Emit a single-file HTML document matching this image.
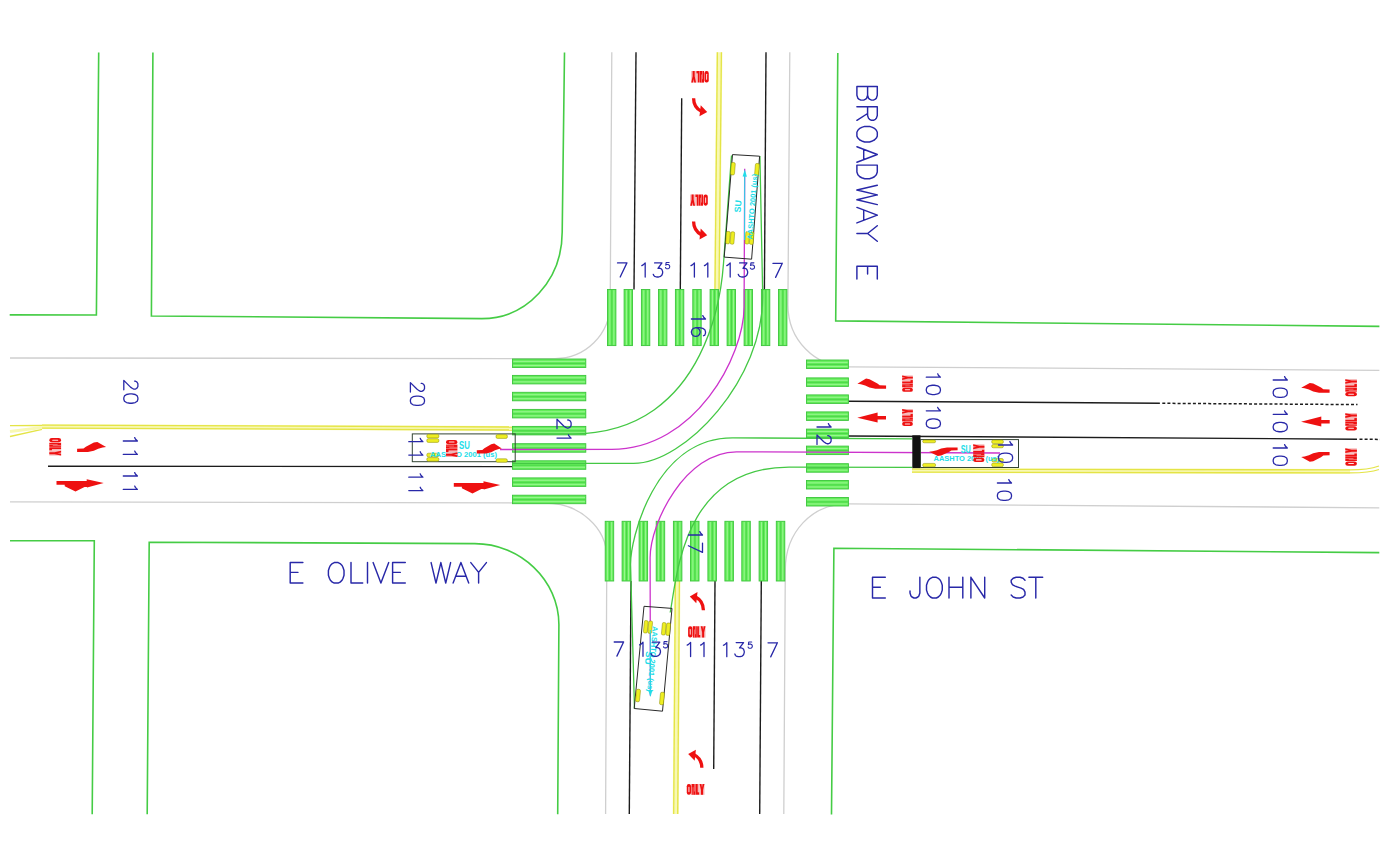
<!DOCTYPE html>
<html><head><meta charset="utf-8"><title>Intersection plan</title>
<style>html,body{margin:0;padding:0;background:#fff;overflow:hidden;font-family:"Liberation Sans",sans-serif}svg{display:block}</style>
</head><body>
<svg width="1391" height="868" viewBox="0 0 1391 868"><path d="M9.70,314.90 L96.40,315.00 L98.70,52.40" fill="none" stroke="#45cc45" stroke-width="1.60" /><path d="M152.9,52.4 L151.4,316.0 L481.9,318.6 C527,318.6 562.2,280 562.2,231.9 L564.5,52.4" fill="none" stroke="#45cc45" stroke-width="1.60" /><path d="M837.80,53.10 L835.70,320.90 L1379.40,326.40" fill="none" stroke="#45cc45" stroke-width="1.60" /><path d="M10.00,540.80 L94.30,540.80 L92.20,814.20" fill="none" stroke="#45cc45" stroke-width="1.60" /><path d="M147.2,814.2 L149.2,542.2 L474.8,543.6 C520,543.6 558.9,580 558.9,624.6 L557.7,814.2" fill="none" stroke="#45cc45" stroke-width="1.60" /><path d="M831.50,814.50 L833.90,548.20 L1379.30,552.60" fill="none" stroke="#45cc45" stroke-width="1.60" /><path d="M10,358.0 L555,358.6 C585,358.6 610.2,335 610.2,303 L611.8,52.2" fill="none" stroke="#cfcfcf" stroke-width="1.30" /><path d="M789.8,52.2 L787.9,305 C788,340 815,366.8 848,366.8 L1379.4,370.4" fill="none" stroke="#cfcfcf" stroke-width="1.30" /><path d="M10,501.8 L545,503.0 C580,503.0 606.8,528 606.8,557.3 L605.6,814" fill="none" stroke="#cfcfcf" stroke-width="1.30" /><path d="M1379.3,507.8 L848,503.8 C812,503.8 785.3,532 785.3,570 L783.8,814" fill="none" stroke="#cfcfcf" stroke-width="1.30" /><path d="M636.00,52.20 L634.00,289.50" fill="none" stroke="#1c1c1c" stroke-width="1.40" /><path d="M681.70,98.20 L680.30,289.50" fill="none" stroke="#1c1c1c" stroke-width="1.40" /><path d="M766.00,52.20 L764.40,289.50" fill="none" stroke="#1c1c1c" stroke-width="1.40" /><path d="M631.00,581.00 L629.30,814.00" fill="none" stroke="#1c1c1c" stroke-width="1.40" /><path d="M715.00,581.00 L713.70,769.00" fill="none" stroke="#1c1c1c" stroke-width="1.40" /><path d="M761.30,581.00 L759.70,814.00" fill="none" stroke="#1c1c1c" stroke-width="1.40" /><path d="M48.00,466.20 L512.00,466.60" fill="none" stroke="#1c1c1c" stroke-width="1.40" /><path d="M848.40,401.20 L1159.90,403.20" fill="none" stroke="#1c1c1c" stroke-width="1.40" /><path d="M1162.30,403.30 L1357.50,404.60" fill="none" stroke="#1c1c1c" stroke-width="1.50" stroke-dasharray="3 2.1"/><path d="M848.40,436.00 L1357.00,439.20" fill="none" stroke="#1c1c1c" stroke-width="1.40" /><path d="M1359.50,439.20 L1380.00,439.40" fill="none" stroke="#1c1c1c" stroke-width="1.50" stroke-dasharray="3 2.1"/><path d="M719.40,52.20 L717.00,289.50" fill="none" stroke="#f8f8b4" stroke-width="6.00" /><path d="M677.40,581.00 L675.70,814.00" fill="none" stroke="#f8f8b4" stroke-width="6.00" /><path d="M42.00,426.60 L512.00,428.50" fill="none" stroke="#f8f8b4" stroke-width="4.80" /><path d="M912.00,470.60 L1350.00,471.40" fill="none" stroke="#f8f8b4" stroke-width="4.80" /><path d="M717.40,52.20 L715.00,289.50" fill="none" stroke="#e4e446" stroke-width="1.30" /><path d="M675.40,581.00 L673.70,814.00" fill="none" stroke="#e4e446" stroke-width="1.30" /><path d="M721.40,52.20 L719.00,289.50" fill="none" stroke="#e4e446" stroke-width="1.30" /><path d="M679.40,581.00 L677.70,814.00" fill="none" stroke="#e4e446" stroke-width="1.30" /><path d="M42.00,425.10 L512.00,427.00" fill="none" stroke="#e4e446" stroke-width="1.30" /><path d="M912.00,469.10 L1350.00,469.90" fill="none" stroke="#e4e446" stroke-width="1.30" /><path d="M42.00,428.10 L512.00,430.00" fill="none" stroke="#e4e446" stroke-width="1.30" /><path d="M912.00,472.10 L1350.00,472.90" fill="none" stroke="#e4e446" stroke-width="1.30" /><path d="M10,425.6 L42,425.5" fill="none" stroke="#e4e446" stroke-width="1.30" /><path d="M10,436.5 L42,429.4" fill="none" stroke="#e4e446" stroke-width="1.30" /><path d="M10,431.5 L42,427.5" fill="none" stroke="#f8f8b4" stroke-width="3.00" /><path d="M1350,469.9 C1362,469.9 1372,468.5 1379,466" fill="none" stroke="#e4e446" stroke-width="1.30" /><path d="M1350,472.9 C1362,472.9 1372,472 1379,469.5" fill="none" stroke="#e4e446" stroke-width="1.30" /><rect x="607.50" y="289.50" width="8.40" height="56.10" fill="#64ee5a" stroke="#3cc43c" stroke-width="0.9"/><path d="M611.87,290.00 V345.10" stroke="#40c840" stroke-width="0.7"/><path d="M609.85,290.30 V344.80" stroke="#a8f8a0" stroke-width="0.8"/><path d="M613.88,290.30 V344.80" stroke="#a8f8a0" stroke-width="0.8"/><rect x="624.10" y="289.50" width="8.40" height="56.10" fill="#64ee5a" stroke="#3cc43c" stroke-width="0.9"/><path d="M628.47,290.00 V345.10" stroke="#40c840" stroke-width="0.7"/><path d="M626.45,290.30 V344.80" stroke="#a8f8a0" stroke-width="0.8"/><path d="M630.48,290.30 V344.80" stroke="#a8f8a0" stroke-width="0.8"/><rect x="641.40" y="289.50" width="8.40" height="56.10" fill="#64ee5a" stroke="#3cc43c" stroke-width="0.9"/><path d="M645.77,290.00 V345.10" stroke="#40c840" stroke-width="0.7"/><path d="M643.75,290.30 V344.80" stroke="#a8f8a0" stroke-width="0.8"/><path d="M647.78,290.30 V344.80" stroke="#a8f8a0" stroke-width="0.8"/><rect x="658.50" y="289.50" width="8.40" height="56.10" fill="#64ee5a" stroke="#3cc43c" stroke-width="0.9"/><path d="M662.87,290.00 V345.10" stroke="#40c840" stroke-width="0.7"/><path d="M660.85,290.30 V344.80" stroke="#a8f8a0" stroke-width="0.8"/><path d="M664.88,290.30 V344.80" stroke="#a8f8a0" stroke-width="0.8"/><rect x="675.40" y="289.50" width="8.40" height="56.10" fill="#64ee5a" stroke="#3cc43c" stroke-width="0.9"/><path d="M679.77,290.00 V345.10" stroke="#40c840" stroke-width="0.7"/><path d="M677.75,290.30 V344.80" stroke="#a8f8a0" stroke-width="0.8"/><path d="M681.78,290.30 V344.80" stroke="#a8f8a0" stroke-width="0.8"/><rect x="692.80" y="289.50" width="8.40" height="56.10" fill="#64ee5a" stroke="#3cc43c" stroke-width="0.9"/><path d="M697.17,290.00 V345.10" stroke="#40c840" stroke-width="0.7"/><path d="M695.15,290.30 V344.80" stroke="#a8f8a0" stroke-width="0.8"/><path d="M699.18,290.30 V344.80" stroke="#a8f8a0" stroke-width="0.8"/><rect x="710.10" y="289.50" width="8.40" height="56.10" fill="#64ee5a" stroke="#3cc43c" stroke-width="0.9"/><path d="M714.47,290.00 V345.10" stroke="#40c840" stroke-width="0.7"/><path d="M712.45,290.30 V344.80" stroke="#a8f8a0" stroke-width="0.8"/><path d="M716.48,290.30 V344.80" stroke="#a8f8a0" stroke-width="0.8"/><rect x="727.10" y="289.50" width="8.40" height="56.10" fill="#64ee5a" stroke="#3cc43c" stroke-width="0.9"/><path d="M731.47,290.00 V345.10" stroke="#40c840" stroke-width="0.7"/><path d="M729.45,290.30 V344.80" stroke="#a8f8a0" stroke-width="0.8"/><path d="M733.48,290.30 V344.80" stroke="#a8f8a0" stroke-width="0.8"/><rect x="744.10" y="289.50" width="8.40" height="56.10" fill="#64ee5a" stroke="#3cc43c" stroke-width="0.9"/><path d="M748.47,290.00 V345.10" stroke="#40c840" stroke-width="0.7"/><path d="M746.45,290.30 V344.80" stroke="#a8f8a0" stroke-width="0.8"/><path d="M750.48,290.30 V344.80" stroke="#a8f8a0" stroke-width="0.8"/><rect x="761.40" y="289.50" width="8.40" height="56.10" fill="#64ee5a" stroke="#3cc43c" stroke-width="0.9"/><path d="M765.77,290.00 V345.10" stroke="#40c840" stroke-width="0.7"/><path d="M763.75,290.30 V344.80" stroke="#a8f8a0" stroke-width="0.8"/><path d="M767.78,290.30 V344.80" stroke="#a8f8a0" stroke-width="0.8"/><rect x="778.50" y="289.50" width="8.40" height="56.10" fill="#64ee5a" stroke="#3cc43c" stroke-width="0.9"/><path d="M782.87,290.00 V345.10" stroke="#40c840" stroke-width="0.7"/><path d="M780.85,290.30 V344.80" stroke="#a8f8a0" stroke-width="0.8"/><path d="M784.88,290.30 V344.80" stroke="#a8f8a0" stroke-width="0.8"/><rect x="605.20" y="521.30" width="8.50" height="59.70" fill="#64ee5a" stroke="#3cc43c" stroke-width="0.9"/><path d="M609.62,521.80 V580.50" stroke="#40c840" stroke-width="0.7"/><path d="M607.58,522.10 V580.20" stroke="#a8f8a0" stroke-width="0.8"/><path d="M611.66,522.10 V580.20" stroke="#a8f8a0" stroke-width="0.8"/><rect x="622.10" y="521.30" width="8.50" height="59.70" fill="#64ee5a" stroke="#3cc43c" stroke-width="0.9"/><path d="M626.52,521.80 V580.50" stroke="#40c840" stroke-width="0.7"/><path d="M624.48,522.10 V580.20" stroke="#a8f8a0" stroke-width="0.8"/><path d="M628.56,522.10 V580.20" stroke="#a8f8a0" stroke-width="0.8"/><rect x="639.10" y="521.30" width="8.50" height="59.70" fill="#64ee5a" stroke="#3cc43c" stroke-width="0.9"/><path d="M643.52,521.80 V580.50" stroke="#40c840" stroke-width="0.7"/><path d="M641.48,522.10 V580.20" stroke="#a8f8a0" stroke-width="0.8"/><path d="M645.56,522.10 V580.20" stroke="#a8f8a0" stroke-width="0.8"/><rect x="656.20" y="521.30" width="8.50" height="59.70" fill="#64ee5a" stroke="#3cc43c" stroke-width="0.9"/><path d="M660.62,521.80 V580.50" stroke="#40c840" stroke-width="0.7"/><path d="M658.58,522.10 V580.20" stroke="#a8f8a0" stroke-width="0.8"/><path d="M662.66,522.10 V580.20" stroke="#a8f8a0" stroke-width="0.8"/><rect x="673.40" y="521.30" width="8.50" height="59.70" fill="#64ee5a" stroke="#3cc43c" stroke-width="0.9"/><path d="M677.82,521.80 V580.50" stroke="#40c840" stroke-width="0.7"/><path d="M675.78,522.10 V580.20" stroke="#a8f8a0" stroke-width="0.8"/><path d="M679.86,522.10 V580.20" stroke="#a8f8a0" stroke-width="0.8"/><rect x="690.50" y="521.30" width="8.50" height="59.70" fill="#64ee5a" stroke="#3cc43c" stroke-width="0.9"/><path d="M694.92,521.80 V580.50" stroke="#40c840" stroke-width="0.7"/><path d="M692.88,522.10 V580.20" stroke="#a8f8a0" stroke-width="0.8"/><path d="M696.96,522.10 V580.20" stroke="#a8f8a0" stroke-width="0.8"/><rect x="707.90" y="521.30" width="8.50" height="59.70" fill="#64ee5a" stroke="#3cc43c" stroke-width="0.9"/><path d="M712.32,521.80 V580.50" stroke="#40c840" stroke-width="0.7"/><path d="M710.28,522.10 V580.20" stroke="#a8f8a0" stroke-width="0.8"/><path d="M714.36,522.10 V580.20" stroke="#a8f8a0" stroke-width="0.8"/><rect x="724.90" y="521.30" width="8.50" height="59.70" fill="#64ee5a" stroke="#3cc43c" stroke-width="0.9"/><path d="M729.32,521.80 V580.50" stroke="#40c840" stroke-width="0.7"/><path d="M727.28,522.10 V580.20" stroke="#a8f8a0" stroke-width="0.8"/><path d="M731.36,522.10 V580.20" stroke="#a8f8a0" stroke-width="0.8"/><rect x="741.80" y="521.30" width="8.50" height="59.70" fill="#64ee5a" stroke="#3cc43c" stroke-width="0.9"/><path d="M746.22,521.80 V580.50" stroke="#40c840" stroke-width="0.7"/><path d="M744.18,522.10 V580.20" stroke="#a8f8a0" stroke-width="0.8"/><path d="M748.26,522.10 V580.20" stroke="#a8f8a0" stroke-width="0.8"/><rect x="759.10" y="521.30" width="8.50" height="59.70" fill="#64ee5a" stroke="#3cc43c" stroke-width="0.9"/><path d="M763.52,521.80 V580.50" stroke="#40c840" stroke-width="0.7"/><path d="M761.48,522.10 V580.20" stroke="#a8f8a0" stroke-width="0.8"/><path d="M765.56,522.10 V580.20" stroke="#a8f8a0" stroke-width="0.8"/><rect x="776.30" y="521.30" width="8.50" height="59.70" fill="#64ee5a" stroke="#3cc43c" stroke-width="0.9"/><path d="M780.72,521.80 V580.50" stroke="#40c840" stroke-width="0.7"/><path d="M778.68,522.10 V580.20" stroke="#a8f8a0" stroke-width="0.8"/><path d="M782.76,522.10 V580.20" stroke="#a8f8a0" stroke-width="0.8"/><rect x="512.50" y="359.00" width="73.30" height="8.50" fill="#64ee5a" stroke="#3cc43c" stroke-width="0.9"/><path d="M513.00,363.42 H585.30" stroke="#40c840" stroke-width="0.7"/><path d="M513.30,361.38 H585.00" stroke="#a8f8a0" stroke-width="0.8"/><path d="M513.30,365.46 H585.00" stroke="#a8f8a0" stroke-width="0.8"/><rect x="512.50" y="375.40" width="73.30" height="8.50" fill="#64ee5a" stroke="#3cc43c" stroke-width="0.9"/><path d="M513.00,379.82 H585.30" stroke="#40c840" stroke-width="0.7"/><path d="M513.30,377.78 H585.00" stroke="#a8f8a0" stroke-width="0.8"/><path d="M513.30,381.86 H585.00" stroke="#a8f8a0" stroke-width="0.8"/><rect x="512.50" y="392.30" width="73.30" height="8.50" fill="#64ee5a" stroke="#3cc43c" stroke-width="0.9"/><path d="M513.00,396.72 H585.30" stroke="#40c840" stroke-width="0.7"/><path d="M513.30,394.68 H585.00" stroke="#a8f8a0" stroke-width="0.8"/><path d="M513.30,398.76 H585.00" stroke="#a8f8a0" stroke-width="0.8"/><rect x="512.50" y="409.40" width="73.30" height="8.50" fill="#64ee5a" stroke="#3cc43c" stroke-width="0.9"/><path d="M513.00,413.82 H585.30" stroke="#40c840" stroke-width="0.7"/><path d="M513.30,411.78 H585.00" stroke="#a8f8a0" stroke-width="0.8"/><path d="M513.30,415.86 H585.00" stroke="#a8f8a0" stroke-width="0.8"/><rect x="512.50" y="426.40" width="73.30" height="8.50" fill="#64ee5a" stroke="#3cc43c" stroke-width="0.9"/><path d="M513.00,430.82 H585.30" stroke="#40c840" stroke-width="0.7"/><path d="M513.30,428.78 H585.00" stroke="#a8f8a0" stroke-width="0.8"/><path d="M513.30,432.86 H585.00" stroke="#a8f8a0" stroke-width="0.8"/><rect x="512.50" y="443.70" width="73.30" height="8.50" fill="#64ee5a" stroke="#3cc43c" stroke-width="0.9"/><path d="M513.00,448.12 H585.30" stroke="#40c840" stroke-width="0.7"/><path d="M513.30,446.08 H585.00" stroke="#a8f8a0" stroke-width="0.8"/><path d="M513.30,450.16 H585.00" stroke="#a8f8a0" stroke-width="0.8"/><rect x="512.50" y="460.80" width="73.30" height="8.50" fill="#64ee5a" stroke="#3cc43c" stroke-width="0.9"/><path d="M513.00,465.22 H585.30" stroke="#40c840" stroke-width="0.7"/><path d="M513.30,463.18 H585.00" stroke="#a8f8a0" stroke-width="0.8"/><path d="M513.30,467.26 H585.00" stroke="#a8f8a0" stroke-width="0.8"/><rect x="512.50" y="477.90" width="73.30" height="8.50" fill="#64ee5a" stroke="#3cc43c" stroke-width="0.9"/><path d="M513.00,482.32 H585.30" stroke="#40c840" stroke-width="0.7"/><path d="M513.30,480.28 H585.00" stroke="#a8f8a0" stroke-width="0.8"/><path d="M513.30,484.36 H585.00" stroke="#a8f8a0" stroke-width="0.8"/><rect x="512.50" y="495.20" width="73.30" height="8.50" fill="#64ee5a" stroke="#3cc43c" stroke-width="0.9"/><path d="M513.00,499.62 H585.30" stroke="#40c840" stroke-width="0.7"/><path d="M513.30,497.58 H585.00" stroke="#a8f8a0" stroke-width="0.8"/><path d="M513.30,501.66 H585.00" stroke="#a8f8a0" stroke-width="0.8"/><rect x="806.50" y="360.00" width="41.90" height="8.50" fill="#64ee5a" stroke="#3cc43c" stroke-width="0.9"/><path d="M807.00,364.42 H847.90" stroke="#40c840" stroke-width="0.7"/><path d="M807.30,362.38 H847.60" stroke="#a8f8a0" stroke-width="0.8"/><path d="M807.30,366.46 H847.60" stroke="#a8f8a0" stroke-width="0.8"/><rect x="806.50" y="377.90" width="41.90" height="8.50" fill="#64ee5a" stroke="#3cc43c" stroke-width="0.9"/><path d="M807.00,382.32 H847.90" stroke="#40c840" stroke-width="0.7"/><path d="M807.30,380.28 H847.60" stroke="#a8f8a0" stroke-width="0.8"/><path d="M807.30,384.36 H847.60" stroke="#a8f8a0" stroke-width="0.8"/><rect x="806.50" y="394.90" width="41.90" height="8.50" fill="#64ee5a" stroke="#3cc43c" stroke-width="0.9"/><path d="M807.00,399.32 H847.90" stroke="#40c840" stroke-width="0.7"/><path d="M807.30,397.28 H847.60" stroke="#a8f8a0" stroke-width="0.8"/><path d="M807.30,401.36 H847.60" stroke="#a8f8a0" stroke-width="0.8"/><rect x="806.50" y="411.90" width="41.90" height="8.50" fill="#64ee5a" stroke="#3cc43c" stroke-width="0.9"/><path d="M807.00,416.32 H847.90" stroke="#40c840" stroke-width="0.7"/><path d="M807.30,414.28 H847.60" stroke="#a8f8a0" stroke-width="0.8"/><path d="M807.30,418.36 H847.60" stroke="#a8f8a0" stroke-width="0.8"/><rect x="806.50" y="429.10" width="41.90" height="8.50" fill="#64ee5a" stroke="#3cc43c" stroke-width="0.9"/><path d="M807.00,433.52 H847.90" stroke="#40c840" stroke-width="0.7"/><path d="M807.30,431.48 H847.60" stroke="#a8f8a0" stroke-width="0.8"/><path d="M807.30,435.56 H847.60" stroke="#a8f8a0" stroke-width="0.8"/><rect x="806.50" y="446.10" width="41.90" height="8.50" fill="#64ee5a" stroke="#3cc43c" stroke-width="0.9"/><path d="M807.00,450.52 H847.90" stroke="#40c840" stroke-width="0.7"/><path d="M807.30,448.48 H847.60" stroke="#a8f8a0" stroke-width="0.8"/><path d="M807.30,452.56 H847.60" stroke="#a8f8a0" stroke-width="0.8"/><rect x="806.50" y="463.70" width="41.90" height="8.50" fill="#64ee5a" stroke="#3cc43c" stroke-width="0.9"/><path d="M807.00,468.12 H847.90" stroke="#40c840" stroke-width="0.7"/><path d="M807.30,466.08 H847.60" stroke="#a8f8a0" stroke-width="0.8"/><path d="M807.30,470.16 H847.60" stroke="#a8f8a0" stroke-width="0.8"/><rect x="806.50" y="480.50" width="41.90" height="8.50" fill="#64ee5a" stroke="#3cc43c" stroke-width="0.9"/><path d="M807.00,484.92 H847.90" stroke="#40c840" stroke-width="0.7"/><path d="M807.30,482.88 H847.60" stroke="#a8f8a0" stroke-width="0.8"/><path d="M807.30,486.96 H847.60" stroke="#a8f8a0" stroke-width="0.8"/><rect x="806.50" y="497.50" width="41.90" height="8.50" fill="#64ee5a" stroke="#3cc43c" stroke-width="0.9"/><path d="M807.00,501.92 H847.90" stroke="#40c840" stroke-width="0.7"/><path d="M807.30,499.88 H847.60" stroke="#a8f8a0" stroke-width="0.8"/><path d="M807.30,503.96 H847.60" stroke="#a8f8a0" stroke-width="0.8"/><path d="M731.50,155.50 L723.58,262.39 C722.56,276.19 713.50,433.77 572.13,433.93 L512.00,434.00" fill="none" stroke="#44c844" stroke-width="1.30" /><path d="M744.70,168.70 L744.09,306.90 C743.88,356.26 695.03,449.34 611.68,449.41 L500.00,449.50" fill="none" stroke="#cc33cc" stroke-width="1.30" /><path d="M759.90,156.00 L762.69,294.16 C764.42,379.66 684.27,463.40 633.62,463.40 L512.00,463.40" fill="none" stroke="#44c844" stroke-width="1.30" /><path d="M634.50,708.50 L630.55,565.64 C629.84,539.91 654.40,437.45 733.01,437.86 L912.00,438.80" fill="none" stroke="#44c844" stroke-width="1.30" /><path d="M650.40,695.70 L650.11,557.87 C650.04,522.69 685.48,451.55 736.69,451.78 L1000.00,453.00" fill="none" stroke="#cc33cc" stroke-width="1.30" /><path d="M670.2,612.5 C676.99,576.82 682.28,466.88 789.37,467.12 L912.00,467.40" fill="none" stroke="#44c844" stroke-width="1.30" /><rect x="412.3" y="433.9" width="102.9" height="27.8" fill="none" stroke="#334433" stroke-width="1"/><rect x="426.8" y="434.3" width="12.1" height="3.6" rx="1.5" fill="#eeee22" stroke="#8a8a00" stroke-width="0.5"/><rect x="426.8" y="438.7" width="12.1" height="3.7" rx="1.5" fill="#eeee22" stroke="#8a8a00" stroke-width="0.5"/><rect x="426.8" y="453.2" width="12.1" height="3.6" rx="1.5" fill="#eeee22" stroke="#8a8a00" stroke-width="0.5"/><rect x="426.8" y="457.6" width="12.1" height="3.6" rx="1.5" fill="#eeee22" stroke="#8a8a00" stroke-width="0.5"/><rect x="496.0" y="434.6" width="11.4" height="3.8" rx="1.5" fill="#eeee22" stroke="#8a8a00" stroke-width="0.5"/><rect x="496.0" y="458.8" width="11.4" height="3.4" rx="1.5" fill="#eeee22" stroke="#8a8a00" stroke-width="0.5"/><rect x="912.3" y="435.3" width="8.2" height="32.8" fill="#111"/><rect x="920.5" y="439.6" width="98" height="27.9" fill="none" stroke="#334433" stroke-width="1"/><rect x="922.7" y="440.0" width="12.9" height="2.8" rx="1.5" fill="#eeee22" stroke="#8a8a00" stroke-width="0.5"/><rect x="922.7" y="463.4" width="12.9" height="3.4" rx="1.5" fill="#eeee22" stroke="#8a8a00" stroke-width="0.5"/><rect x="991.7" y="440.0" width="11.7" height="3.5" rx="1.5" fill="#eeee22" stroke="#8a8a00" stroke-width="0.5"/><rect x="991.7" y="444.5" width="11.7" height="3.3" rx="1.5" fill="#eeee22" stroke="#8a8a00" stroke-width="0.5"/><rect x="991.7" y="458.5" width="11.7" height="3.3" rx="1.5" fill="#eeee22" stroke="#8a8a00" stroke-width="0.5"/><rect x="991.7" y="463.0" width="11.7" height="3.6" rx="1.5" fill="#eeee22" stroke="#8a8a00" stroke-width="0.5"/><polygon points="732.50,154.60 759.60,156.20 751.60,259.20 724.20,257.10" fill="none" stroke="#2a2a2a" stroke-width="1.00"/><polygon points="644.00,606.30 672.00,608.40 662.50,711.20 634.20,708.50" fill="none" stroke="#2a2a2a" stroke-width="1.00"/><rect x="730.90" y="162.45" width="4.00" height="12.50" rx="1.5" fill="#eeee22" stroke="#8a8a00" stroke-width="0.5" transform="rotate(4.50 732.90 168.70)"/><rect x="755.00" y="163.45" width="4.00" height="12.50" rx="1.5" fill="#eeee22" stroke="#8a8a00" stroke-width="0.5" transform="rotate(4.50 757.00 169.70)"/><rect x="726.10" y="231.60" width="3.80" height="12.40" rx="1.3" fill="#eeee22" stroke="#8a8a00" stroke-width="0.5" transform="rotate(4.50 730.20 237.80)"/><rect x="730.50" y="231.60" width="3.80" height="12.40" rx="1.3" fill="#eeee22" stroke="#8a8a00" stroke-width="0.5" transform="rotate(4.50 730.20 237.80)"/><rect x="745.40" y="231.80" width="3.80" height="12.40" rx="1.3" fill="#eeee22" stroke="#8a8a00" stroke-width="0.5" transform="rotate(4.50 749.50 238.00)"/><rect x="749.80" y="231.80" width="3.80" height="12.40" rx="1.3" fill="#eeee22" stroke="#8a8a00" stroke-width="0.5" transform="rotate(4.50 749.50 238.00)"/><rect x="643.90" y="620.80" width="3.80" height="12.40" rx="1.3" fill="#eeee22" stroke="#8a8a00" stroke-width="0.5" transform="rotate(5.40 648.00 627.00)"/><rect x="648.30" y="620.80" width="3.80" height="12.40" rx="1.3" fill="#eeee22" stroke="#8a8a00" stroke-width="0.5" transform="rotate(5.40 648.00 627.00)"/><rect x="661.90" y="622.80" width="3.80" height="12.40" rx="1.3" fill="#eeee22" stroke="#8a8a00" stroke-width="0.5" transform="rotate(5.40 666.00 629.00)"/><rect x="666.30" y="622.80" width="3.80" height="12.40" rx="1.3" fill="#eeee22" stroke="#8a8a00" stroke-width="0.5" transform="rotate(5.40 666.00 629.00)"/><rect x="636.00" y="689.25" width="4.00" height="12.50" rx="1.5" fill="#eeee22" stroke="#8a8a00" stroke-width="0.5" transform="rotate(5.40 638.00 695.50)"/><rect x="660.00" y="692.25" width="4.00" height="12.50" rx="1.5" fill="#eeee22" stroke="#8a8a00" stroke-width="0.5" transform="rotate(5.40 662.00 698.50)"/><text transform="translate(459.00,448.60) rotate(0)" x="0" y="0" font-family="Liberation Sans, sans-serif" font-weight="bold" font-size="10.0" fill="#22dde8" textLength="10.8" lengthAdjust="spacingAndGlyphs">SU</text><text transform="translate(430.00,457.30) rotate(0)" x="0" y="0" font-family="Liberation Sans, sans-serif" font-weight="bold" font-size="7.6" fill="#22dde8" textLength="67.0" lengthAdjust="spacingAndGlyphs">AASHTO  2001  (us)</text><text transform="translate(960.70,453.20) rotate(0)" x="0" y="0" font-family="Liberation Sans, sans-serif" font-weight="bold" font-size="10.0" fill="#22dde8" textLength="10.0" lengthAdjust="spacingAndGlyphs">SU</text><text transform="translate(933.60,460.60) rotate(0)" x="0" y="0" font-family="Liberation Sans, sans-serif" font-weight="bold" font-size="7.6" fill="#22dde8" textLength="65.6" lengthAdjust="spacingAndGlyphs">AASHTO  2001  (us)</text><text transform="translate(752.30,239.80) rotate(-85.5)" x="0" y="0" font-family="Liberation Sans, sans-serif" font-weight="bold" font-size="7.6" fill="#22dde8" textLength="66.0" lengthAdjust="spacingAndGlyphs">AASHTO  2001  (us)</text><text transform="translate(740.60,212.80) rotate(-85.5)" x="0" y="0" font-family="Liberation Sans, sans-serif" font-weight="bold" font-size="9.0" fill="#22dde8" textLength="12.5" lengthAdjust="spacingAndGlyphs">SU</text><text transform="translate(652.60,625.90) rotate(94.6)" x="0" y="0" font-family="Liberation Sans, sans-serif" font-weight="bold" font-size="7.6" fill="#22dde8" textLength="66.0" lengthAdjust="spacingAndGlyphs">AASHTO  2001  (us)</text><text transform="translate(645.90,651.00) rotate(94.6)" x="0" y="0" font-family="Liberation Sans, sans-serif" font-weight="bold" font-size="9.0" fill="#22dde8" textLength="13.5" lengthAdjust="spacingAndGlyphs">SU</text><path d="M744.7,176 L744.6,240" stroke="#22dde8" stroke-width="1"/><polygon points="744.8,169.5 742.6,176.5 746.9,176.7" fill="#22dde8"/><path d="M650.3,630 L650.4,690" stroke="#22dde8" stroke-width="1"/><polygon points="650.4,697 648.2,690 652.6,690" fill="#22dde8"/><g transform="translate(700.00,76.80) rotate(180) translate(-8.75,-5.80) scale(1.0000,1.0087)" fill="#ee1111"><rect x="0" y="0" width="4.3" height="11.5" rx="2.0" ry="2.4"/><rect x="1.65" y="2.8" width="1.0" height="5.9" rx="0.5" fill="#fde0e0"/><rect x="4.7" y="0" width="4.1" height="11.5"/><polygon points="6.0,3.4 6.4,3.4 6.4,11.6 6.0,11.6" fill="#fcd8d8"/><polygon points="7.15,-0.1 7.55,-0.1 7.55,8.1 7.15,8.1" fill="#fcd8d8"/><rect x="10.9" y="0" width="1.6" height="8.9" fill="#f6b4b4"/><polygon points="9.1,0 10.9,0 10.9,8.9 12.5,8.9 12.5,11.5 9.1,11.5"/><rect x="12.5" y="0" width="5.0" height="11.5" fill="#f6b4b4"/><polygon points="12.7,0 14.5,0 15.1,3.6 15.7,0 17.5,0 16.1,6.4 16.1,11.5 14.1,11.5 14.1,6.4"/></g><g transform="translate(699.00,200.10) rotate(180) translate(-8.80,-5.60) scale(1.0057,0.9739)" fill="#ee1111"><rect x="0" y="0" width="4.3" height="11.5" rx="2.0" ry="2.4"/><rect x="1.65" y="2.8" width="1.0" height="5.9" rx="0.5" fill="#fde0e0"/><rect x="4.7" y="0" width="4.1" height="11.5"/><polygon points="6.0,3.4 6.4,3.4 6.4,11.6 6.0,11.6" fill="#fcd8d8"/><polygon points="7.15,-0.1 7.55,-0.1 7.55,8.1 7.15,8.1" fill="#fcd8d8"/><rect x="10.9" y="0" width="1.6" height="8.9" fill="#f6b4b4"/><polygon points="9.1,0 10.9,0 10.9,8.9 12.5,8.9 12.5,11.5 9.1,11.5"/><rect x="12.5" y="0" width="5.0" height="11.5" fill="#f6b4b4"/><polygon points="12.7,0 14.5,0 15.1,3.6 15.7,0 17.5,0 16.1,6.4 16.1,11.5 14.1,11.5 14.1,6.4"/></g><g transform="translate(696.80,631.90) rotate(0) translate(-8.70,-5.70) scale(0.9943,0.9913)" fill="#ee1111"><rect x="0" y="0" width="4.3" height="11.5" rx="2.0" ry="2.4"/><rect x="1.65" y="2.8" width="1.0" height="5.9" rx="0.5" fill="#fde0e0"/><rect x="4.7" y="0" width="4.1" height="11.5"/><polygon points="6.0,3.4 6.4,3.4 6.4,11.6 6.0,11.6" fill="#fcd8d8"/><polygon points="7.15,-0.1 7.55,-0.1 7.55,8.1 7.15,8.1" fill="#fcd8d8"/><rect x="10.9" y="0" width="1.6" height="8.9" fill="#f6b4b4"/><polygon points="9.1,0 10.9,0 10.9,8.9 12.5,8.9 12.5,11.5 9.1,11.5"/><rect x="12.5" y="0" width="5.0" height="11.5" fill="#f6b4b4"/><polygon points="12.7,0 14.5,0 15.1,3.6 15.7,0 17.5,0 16.1,6.4 16.1,11.5 14.1,11.5 14.1,6.4"/></g><g transform="translate(695.60,789.40) rotate(0) translate(-8.85,-5.40) scale(1.0114,0.9391)" fill="#ee1111"><rect x="0" y="0" width="4.3" height="11.5" rx="2.0" ry="2.4"/><rect x="1.65" y="2.8" width="1.0" height="5.9" rx="0.5" fill="#fde0e0"/><rect x="4.7" y="0" width="4.1" height="11.5"/><polygon points="6.0,3.4 6.4,3.4 6.4,11.6 6.0,11.6" fill="#fcd8d8"/><polygon points="7.15,-0.1 7.55,-0.1 7.55,8.1 7.15,8.1" fill="#fcd8d8"/><rect x="10.9" y="0" width="1.6" height="8.9" fill="#f6b4b4"/><polygon points="9.1,0 10.9,0 10.9,8.9 12.5,8.9 12.5,11.5 9.1,11.5"/><rect x="12.5" y="0" width="5.0" height="11.5" fill="#f6b4b4"/><polygon points="12.7,0 14.5,0 15.1,3.6 15.7,0 17.5,0 16.1,6.4 16.1,11.5 14.1,11.5 14.1,6.4"/></g><g transform="translate(55.20,446.80) rotate(90) translate(-8.75,-5.90) scale(1.0000,1.0261)" fill="#ee1111"><rect x="0" y="0" width="4.3" height="11.5" rx="2.0" ry="2.4"/><rect x="1.65" y="2.8" width="1.0" height="5.9" rx="0.5" fill="#fde0e0"/><rect x="4.7" y="0" width="4.1" height="11.5"/><polygon points="6.0,3.4 6.4,3.4 6.4,11.6 6.0,11.6" fill="#fcd8d8"/><polygon points="7.15,-0.1 7.55,-0.1 7.55,8.1 7.15,8.1" fill="#fcd8d8"/><rect x="10.9" y="0" width="1.6" height="8.9" fill="#f6b4b4"/><polygon points="9.1,0 10.9,0 10.9,8.9 12.5,8.9 12.5,11.5 9.1,11.5"/><rect x="12.5" y="0" width="5.0" height="11.5" fill="#f6b4b4"/><polygon points="12.7,0 14.5,0 15.1,3.6 15.7,0 17.5,0 16.1,6.4 16.1,11.5 14.1,11.5 14.1,6.4"/></g><g transform="translate(451.70,448.50) rotate(90) translate(-8.50,-5.70) scale(0.9714,0.9913)" fill="#ee1111"><rect x="0" y="0" width="4.3" height="11.5" rx="2.0" ry="2.4"/><rect x="1.65" y="2.8" width="1.0" height="5.9" rx="0.5" fill="#fde0e0"/><rect x="4.7" y="0" width="4.1" height="11.5"/><polygon points="6.0,3.4 6.4,3.4 6.4,11.6 6.0,11.6" fill="#fcd8d8"/><polygon points="7.15,-0.1 7.55,-0.1 7.55,8.1 7.15,8.1" fill="#fcd8d8"/><rect x="10.9" y="0" width="1.6" height="8.9" fill="#f6b4b4"/><polygon points="9.1,0 10.9,0 10.9,8.9 12.5,8.9 12.5,11.5 9.1,11.5"/><rect x="12.5" y="0" width="5.0" height="11.5" fill="#f6b4b4"/><polygon points="12.7,0 14.5,0 15.1,3.6 15.7,0 17.5,0 16.1,6.4 16.1,11.5 14.1,11.5 14.1,6.4"/></g><g transform="translate(907.50,383.60) rotate(-90) translate(-8.15,-5.35) scale(0.9314,0.9304)" fill="#ee1111"><rect x="0" y="0" width="4.3" height="11.5" rx="2.0" ry="2.4"/><rect x="1.65" y="2.8" width="1.0" height="5.9" rx="0.5" fill="#fde0e0"/><rect x="4.7" y="0" width="4.1" height="11.5"/><polygon points="6.0,3.4 6.4,3.4 6.4,11.6 6.0,11.6" fill="#fcd8d8"/><polygon points="7.15,-0.1 7.55,-0.1 7.55,8.1 7.15,8.1" fill="#fcd8d8"/><rect x="10.9" y="0" width="1.6" height="8.9" fill="#f6b4b4"/><polygon points="9.1,0 10.9,0 10.9,8.9 12.5,8.9 12.5,11.5 9.1,11.5"/><rect x="12.5" y="0" width="5.0" height="11.5" fill="#f6b4b4"/><polygon points="12.7,0 14.5,0 15.1,3.6 15.7,0 17.5,0 16.1,6.4 16.1,11.5 14.1,11.5 14.1,6.4"/></g><g transform="translate(907.50,417.50) rotate(-90) translate(-8.50,-5.35) scale(0.9714,0.9304)" fill="#ee1111"><rect x="0" y="0" width="4.3" height="11.5" rx="2.0" ry="2.4"/><rect x="1.65" y="2.8" width="1.0" height="5.9" rx="0.5" fill="#fde0e0"/><rect x="4.7" y="0" width="4.1" height="11.5"/><polygon points="6.0,3.4 6.4,3.4 6.4,11.6 6.0,11.6" fill="#fcd8d8"/><polygon points="7.15,-0.1 7.55,-0.1 7.55,8.1 7.15,8.1" fill="#fcd8d8"/><rect x="10.9" y="0" width="1.6" height="8.9" fill="#f6b4b4"/><polygon points="9.1,0 10.9,0 10.9,8.9 12.5,8.9 12.5,11.5 9.1,11.5"/><rect x="12.5" y="0" width="5.0" height="11.5" fill="#f6b4b4"/><polygon points="12.7,0 14.5,0 15.1,3.6 15.7,0 17.5,0 16.1,6.4 16.1,11.5 14.1,11.5 14.1,6.4"/></g><g transform="translate(978.80,453.20) rotate(-90) translate(-8.85,-5.60) scale(1.0114,0.9739)" fill="#ee1111"><rect x="0" y="0" width="4.3" height="11.5" rx="2.0" ry="2.4"/><rect x="1.65" y="2.8" width="1.0" height="5.9" rx="0.5" fill="#fde0e0"/><rect x="4.7" y="0" width="4.1" height="11.5"/><polygon points="6.0,3.4 6.4,3.4 6.4,11.6 6.0,11.6" fill="#fcd8d8"/><polygon points="7.15,-0.1 7.55,-0.1 7.55,8.1 7.15,8.1" fill="#fcd8d8"/><rect x="10.9" y="0" width="1.6" height="8.9" fill="#f6b4b4"/><polygon points="9.1,0 10.9,0 10.9,8.9 12.5,8.9 12.5,11.5 9.1,11.5"/><rect x="12.5" y="0" width="5.0" height="11.5" fill="#f6b4b4"/><polygon points="12.7,0 14.5,0 15.1,3.6 15.7,0 17.5,0 16.1,6.4 16.1,11.5 14.1,11.5 14.1,6.4"/></g><g transform="translate(1351.10,387.70) rotate(-90) translate(-8.55,-5.80) scale(0.9771,1.0087)" fill="#ee1111"><rect x="0" y="0" width="4.3" height="11.5" rx="2.0" ry="2.4"/><rect x="1.65" y="2.8" width="1.0" height="5.9" rx="0.5" fill="#fde0e0"/><rect x="4.7" y="0" width="4.1" height="11.5"/><polygon points="6.0,3.4 6.4,3.4 6.4,11.6 6.0,11.6" fill="#fcd8d8"/><polygon points="7.15,-0.1 7.55,-0.1 7.55,8.1 7.15,8.1" fill="#fcd8d8"/><rect x="10.9" y="0" width="1.6" height="8.9" fill="#f6b4b4"/><polygon points="9.1,0 10.9,0 10.9,8.9 12.5,8.9 12.5,11.5 9.1,11.5"/><rect x="12.5" y="0" width="5.0" height="11.5" fill="#f6b4b4"/><polygon points="12.7,0 14.5,0 15.1,3.6 15.7,0 17.5,0 16.1,6.4 16.1,11.5 14.1,11.5 14.1,6.4"/></g><g transform="translate(1351.10,421.80) rotate(-90) translate(-8.65,-5.80) scale(0.9886,1.0087)" fill="#ee1111"><rect x="0" y="0" width="4.3" height="11.5" rx="2.0" ry="2.4"/><rect x="1.65" y="2.8" width="1.0" height="5.9" rx="0.5" fill="#fde0e0"/><rect x="4.7" y="0" width="4.1" height="11.5"/><polygon points="6.0,3.4 6.4,3.4 6.4,11.6 6.0,11.6" fill="#fcd8d8"/><polygon points="7.15,-0.1 7.55,-0.1 7.55,8.1 7.15,8.1" fill="#fcd8d8"/><rect x="10.9" y="0" width="1.6" height="8.9" fill="#f6b4b4"/><polygon points="9.1,0 10.9,0 10.9,8.9 12.5,8.9 12.5,11.5 9.1,11.5"/><rect x="12.5" y="0" width="5.0" height="11.5" fill="#f6b4b4"/><polygon points="12.7,0 14.5,0 15.1,3.6 15.7,0 17.5,0 16.1,6.4 16.1,11.5 14.1,11.5 14.1,6.4"/></g><g transform="translate(1351.10,457.00) rotate(-90) translate(-8.65,-5.80) scale(0.9886,1.0087)" fill="#ee1111"><rect x="0" y="0" width="4.3" height="11.5" rx="2.0" ry="2.4"/><rect x="1.65" y="2.8" width="1.0" height="5.9" rx="0.5" fill="#fde0e0"/><rect x="4.7" y="0" width="4.1" height="11.5"/><polygon points="6.0,3.4 6.4,3.4 6.4,11.6 6.0,11.6" fill="#fcd8d8"/><polygon points="7.15,-0.1 7.55,-0.1 7.55,8.1 7.15,8.1" fill="#fcd8d8"/><rect x="10.9" y="0" width="1.6" height="8.9" fill="#f6b4b4"/><polygon points="9.1,0 10.9,0 10.9,8.9 12.5,8.9 12.5,11.5 9.1,11.5"/><rect x="12.5" y="0" width="5.0" height="11.5" fill="#f6b4b4"/><polygon points="12.7,0 14.5,0 15.1,3.6 15.7,0 17.5,0 16.1,6.4 16.1,11.5 14.1,11.5 14.1,6.4"/></g><polygon transform="translate(77.10,441.90) rotate(0) scale(1.02113,1.03)" points="28.40,4.90 19.80,0.00 16.40,0.60 8.60,4.60 6.30,6.30 0.00,6.60 0.00,9.80 10.60,9.80 16.40,8.60 20.70,6.60 25.00,5.40" fill="#ee1111"/><polygon transform="translate(476.80,443.60) rotate(0) scale(0.880282,1.02)" points="28.40,4.90 19.80,0.00 16.40,0.60 8.60,4.60 6.30,6.30 0.00,6.60 0.00,9.80 10.60,9.80 16.40,8.60 20.70,6.60 25.00,5.40" fill="#ee1111"/><polygon transform="translate(857.40,378.60) rotate(0) scale(1.01,1.04)" points="0.00,4.90 8.60,0.00 12.00,0.60 19.80,4.60 22.10,6.30 28.40,6.60 28.40,9.80 17.80,9.80 12.00,8.60 7.70,6.60 3.40,5.40" fill="#ee1111"/><polygon transform="translate(1301.20,382.90) rotate(0) scale(1,1)" points="0.00,4.90 8.60,0.00 12.00,0.60 19.80,4.60 22.10,6.30 28.40,6.60 28.40,9.80 17.80,9.80 12.00,8.60 7.70,6.60 3.40,5.40" fill="#ee1111"/><polygon transform="translate(1301.20,452.00) rotate(0) scale(1,1)" points="0.00,4.90 8.60,9.80 12.00,9.20 19.80,5.20 22.10,3.50 28.40,3.20 28.40,0.00 17.80,0.00 12.00,1.20 7.70,3.20 3.40,4.40" fill="#ee1111"/><polygon transform="translate(929.20,447.60) rotate(0) scale(1,0.85)" points="0.00,4.90 8.60,9.80 12.00,9.20 19.80,5.20 22.10,3.50 28.40,3.20 28.40,0.00 17.80,0.00 12.00,1.20 7.70,3.20 3.40,4.40" fill="#ee1111"/><polygon transform="translate(56.10,479.20) rotate(0) scale(1,1)" points="0.40,1.90 30.60,1.80 30.60,0.00 47.60,3.90 31.00,8.20 30.70,7.70 28.40,7.70 19.40,12.30 8.60,7.10 8.60,5.50 0.40,5.50" fill="#ee1111"/><polygon transform="translate(453.40,481.20) rotate(0) scale(0.983193,1)" points="0.40,1.90 30.60,1.80 30.60,0.00 47.60,3.90 31.00,8.20 30.70,7.70 28.40,7.70 19.40,12.30 8.60,7.10 8.60,5.50 0.40,5.50" fill="#ee1111"/><polygon transform="translate(857.30,412.60) rotate(0) scale(1,1)" points="0.00,5.10 20.30,0.00 20.30,3.50 28.70,3.50 28.70,6.90 20.30,6.90 20.30,10.00" fill="#ee1111"/><polygon transform="translate(1301.00,416.60) rotate(0) scale(1,1)" points="0.00,5.10 20.30,0.00 20.30,3.50 28.70,3.50 28.70,6.90 20.30,6.90 20.30,10.00" fill="#ee1111"/><g transform="translate(691.40,98.00) rotate(0)" fill="#ee1111"><path d="M2.2,0.2 C2.2,6.5 4.5,10.5 10,13.4" fill="none" stroke="#ee1111" stroke-width="3.3"/><polygon points="9.3,7.2 15.8,14.0 8.1,18.3"/></g><g transform="translate(691.40,221.30) rotate(0)" fill="#ee1111"><path d="M2.2,0.2 C2.2,6.5 4.5,10.5 10,13.4" fill="none" stroke="#ee1111" stroke-width="3.3"/><polygon points="9.3,7.2 15.8,14.0 8.1,18.3"/></g><g transform="translate(705.60,610.40) rotate(180)" fill="#ee1111"><path d="M2.2,0.2 C2.2,6.5 4.5,10.5 10,13.4" fill="none" stroke="#ee1111" stroke-width="3.3"/><polygon points="9.3,7.2 15.8,14.0 8.1,18.3"/></g><g transform="translate(704.00,768.00) rotate(180)" fill="#ee1111"><path d="M2.2,0.2 C2.2,6.5 4.5,10.5 10,13.4" fill="none" stroke="#ee1111" stroke-width="3.3"/><polygon points="9.3,7.2 15.8,14.0 8.1,18.3"/></g><path transform="translate(0.00,562.60)" d="M290.20,0.00 L290.20,20.50M290.20,0.00 L302.89,0.00M290.20,9.76 L298.01,9.76M290.20,20.50 L302.89,20.50M334.26,0.00 L332.30,0.98 L330.35,2.93 L329.38,4.88 L328.40,7.81 L328.40,12.69 L329.38,15.62 L330.35,17.57 L332.30,19.52 L334.26,20.50 L338.16,20.50 L340.11,19.52 L342.07,17.57 L343.04,15.62 L344.02,12.69 L344.02,7.81 L343.04,4.88 L342.07,2.93 L340.11,0.98 L338.16,0.00 L334.26,0.00M351.00,0.00 L351.00,20.50M351.00,20.50 L362.71,20.50M367.50,0.00 L367.50,20.50M373.10,0.00 L380.91,20.50M388.72,0.00 L380.91,20.50M392.60,0.00 L392.60,20.50M392.60,0.00 L405.29,0.00M392.60,9.76 L400.41,9.76M392.60,20.50 L405.29,20.50M431.10,0.00 L435.98,20.50M440.86,0.00 L435.98,20.50M440.86,0.00 L445.74,20.50M450.62,0.00 L445.74,20.50M460.91,0.00 L453.10,20.50M460.91,0.00 L468.72,20.50M456.03,13.67 L465.79,13.67M470.80,0.00 L478.61,9.76 L478.61,20.50M486.42,0.00 L478.61,9.76" fill="none" stroke="#2828a8" stroke-width="1.45" stroke-linecap="round" stroke-linejoin="round"/><path transform="translate(0.00,577.30)" d="M872.50,0.00 L872.50,20.70M872.50,0.00 L885.31,0.00M872.50,9.86 L880.39,9.86M872.50,20.70 L885.31,20.70M919.86,0.00 L919.86,15.77 L918.87,18.73 L917.89,19.71 L915.91,20.70 L913.94,20.70 L911.97,19.71 L910.99,18.73 L910.00,15.77 L910.00,13.80M932.41,0.00 L930.44,0.99 L928.47,2.96 L927.49,4.93 L926.50,7.89 L926.50,12.81 L927.49,15.77 L928.47,17.74 L930.44,19.71 L932.41,20.70 L936.36,20.70 L938.33,19.71 L940.30,17.74 L941.29,15.77 L942.27,12.81 L942.27,7.89 L941.29,4.93 L940.30,2.96 L938.33,0.99 L936.36,0.00 L932.41,0.00M949.00,0.00 L949.00,20.70M962.80,0.00 L962.80,20.70M949.00,9.86 L962.80,9.86M970.90,0.00 L970.90,20.70M970.90,0.00 L984.70,20.70M984.70,0.00 L984.70,20.70M1025.00,2.96 L1023.03,0.99 L1020.07,0.00 L1016.13,0.00 L1013.17,0.99 L1011.20,2.96 L1011.20,4.93 L1012.19,6.90 L1013.17,7.89 L1015.14,8.87 L1021.06,10.84 L1023.03,11.83 L1024.01,12.81 L1025.00,14.79 L1025.00,17.74 L1023.03,19.71 L1020.07,20.70 L1016.13,20.70 L1013.17,19.71 L1011.20,17.74M1035.80,0.00 L1035.80,20.70M1028.90,0.00 L1042.70,0.00" fill="none" stroke="#2828a8" stroke-width="1.45" stroke-linecap="round" stroke-linejoin="round"/><path transform="translate(877.30,0.00) rotate(90)" d="M86.50,0.00 L86.50,20.40M86.50,0.00 L95.24,0.00 L98.16,0.97 L99.13,1.94 L100.10,3.89 L100.10,5.83 L99.13,7.77 L98.16,8.74 L95.24,9.71M86.50,9.71 L95.24,9.71 L98.16,10.69 L99.13,11.66 L100.10,13.60 L100.10,16.51 L99.13,18.46 L98.16,19.43 L95.24,20.40 L86.50,20.40M106.70,0.00 L106.70,20.40M106.70,0.00 L115.44,0.00 L118.36,0.97 L119.33,1.94 L120.30,3.89 L120.30,5.83 L119.33,7.77 L118.36,8.74 L115.44,9.71 L106.70,9.71M113.50,9.71 L120.30,20.40M132.23,0.00 L130.29,0.97 L128.34,2.91 L127.37,4.86 L126.40,7.77 L126.40,12.63 L127.37,15.54 L128.34,17.49 L130.29,19.43 L132.23,20.40 L136.11,20.40 L138.06,19.43 L140.00,17.49 L140.97,15.54 L141.94,12.63 L141.94,7.77 L140.97,4.86 L140.00,2.91 L138.06,0.97 L136.11,0.00 L132.23,0.00M154.47,0.00 L146.70,20.40M154.47,0.00 L162.24,20.40M149.61,13.60 L159.33,13.60M165.10,0.00 L165.10,20.40M165.10,0.00 L171.90,0.00 L174.81,0.97 L176.76,2.91 L177.73,4.86 L178.70,7.77 L178.70,12.63 L177.73,15.54 L176.76,17.49 L174.81,19.43 L171.90,20.40 L165.10,20.40M185.20,0.00 L190.06,20.40M194.91,0.00 L190.06,20.40M194.91,0.00 L199.77,20.40M204.63,0.00 L199.77,20.40M215.17,0.00 L207.40,20.40M215.17,0.00 L222.94,20.40M210.31,13.60 L220.03,13.60M225.70,0.00 L233.47,9.71 L233.47,20.40M241.24,0.00 L233.47,9.71M266.30,0.00 L266.30,20.40M266.30,0.00 L278.93,0.00M266.30,9.71 L274.07,9.71M266.30,20.40 L278.93,20.40" fill="none" stroke="#2828a8" stroke-width="1.45" stroke-linecap="round" stroke-linejoin="round"/><path transform="translate(0.00,262.90)" d="M626.91,0.00 L620.20,14.10M617.51,0.00 L626.91,0.00" fill="none" stroke="#2828a8" stroke-width="1.30" stroke-linecap="round" stroke-linejoin="round"/><path transform="translate(0.00,262.90)" d="M641.83,2.69 L643.17,2.01 L645.19,0.00 L645.19,14.10M654.59,0.00 L661.97,0.00 L657.94,5.37 L659.96,5.37 L661.30,6.04 L661.97,6.71 L662.64,8.73 L662.64,10.07 L661.97,12.09 L660.63,13.43 L658.61,14.10 L656.60,14.10 L654.59,13.43 L653.91,12.76 L653.24,11.41" fill="none" stroke="#2828a8" stroke-width="1.30" stroke-linecap="round" stroke-linejoin="round"/><path transform="translate(0.00,262.45)" d="M669.10,0.00 L666.10,0.00 L665.80,2.70 L666.10,2.40 L667.00,2.10 L667.90,2.10 L668.80,2.40 L669.40,3.00 L669.70,3.90 L669.70,4.50 L669.40,5.40 L668.80,6.00 L667.90,6.30 L667.00,6.30 L666.10,6.00 L665.80,5.70 L665.50,5.10" fill="none" stroke="#2828a8" stroke-width="1.10" stroke-linecap="round" stroke-linejoin="round"/><path transform="translate(0.00,262.90)" d="M691.03,2.69 L692.37,2.01 L694.39,0.00 L694.39,14.10M704.46,2.69 L705.80,2.01 L707.81,0.00 L707.81,14.10" fill="none" stroke="#2828a8" stroke-width="1.30" stroke-linecap="round" stroke-linejoin="round"/><path transform="translate(0.00,262.90)" d="M726.83,2.69 L728.17,2.01 L730.19,0.00 L730.19,14.10M739.59,0.00 L746.97,0.00 L742.94,5.37 L744.96,5.37 L746.30,6.04 L746.97,6.71 L747.64,8.73 L747.64,10.07 L746.97,12.09 L745.63,13.43 L743.61,14.10 L741.60,14.10 L739.59,13.43 L738.91,12.76 L738.24,11.41" fill="none" stroke="#2828a8" stroke-width="1.30" stroke-linecap="round" stroke-linejoin="round"/><path transform="translate(0.00,262.85)" d="M753.90,0.00 L750.90,0.00 L750.60,2.70 L750.90,2.40 L751.80,2.10 L752.70,2.10 L753.60,2.40 L754.20,3.00 L754.50,3.90 L754.50,4.50 L754.20,5.40 L753.60,6.00 L752.70,6.30 L751.80,6.30 L750.90,6.00 L750.60,5.70 L750.30,5.10" fill="none" stroke="#2828a8" stroke-width="1.10" stroke-linecap="round" stroke-linejoin="round"/><path transform="translate(0.00,263.30)" d="M782.31,0.00 L775.60,14.10M772.91,0.00 L782.31,0.00" fill="none" stroke="#2828a8" stroke-width="1.30" stroke-linecap="round" stroke-linejoin="round"/><path transform="translate(0.00,642.00)" d="M623.61,0.00 L616.90,14.10M614.21,0.00 L623.61,0.00" fill="none" stroke="#2828a8" stroke-width="1.30" stroke-linecap="round" stroke-linejoin="round"/><path transform="translate(0.00,642.20)" d="M639.63,2.69 L640.97,2.01 L642.99,0.00 L642.99,14.10M652.39,0.00 L659.77,0.00 L655.74,5.37 L657.76,5.37 L659.10,6.04 L659.77,6.71 L660.44,8.73 L660.44,10.07 L659.77,12.09 L658.43,13.43 L656.41,14.10 L654.40,14.10 L652.39,13.43 L651.71,12.76 L651.04,11.41" fill="none" stroke="#2828a8" stroke-width="1.30" stroke-linecap="round" stroke-linejoin="round"/><path transform="translate(0.00,641.60)" d="M667.10,0.00 L664.10,0.00 L663.80,2.70 L664.10,2.40 L665.00,2.10 L665.90,2.10 L666.80,2.40 L667.40,3.00 L667.70,3.90 L667.70,4.50 L667.40,5.40 L666.80,6.00 L665.90,6.30 L665.00,6.30 L664.10,6.00 L663.80,5.70 L663.50,5.10" fill="none" stroke="#2828a8" stroke-width="1.10" stroke-linecap="round" stroke-linejoin="round"/><path transform="translate(0.00,642.40)" d="M687.23,2.69 L688.57,2.01 L690.59,0.00 L690.59,14.10M700.66,2.69 L702.00,2.01 L704.01,0.00 L704.01,14.10" fill="none" stroke="#2828a8" stroke-width="1.30" stroke-linecap="round" stroke-linejoin="round"/><path transform="translate(0.00,642.60)" d="M723.43,2.69 L724.77,2.01 L726.79,0.00 L726.79,14.10M736.19,0.00 L743.57,0.00 L739.54,5.37 L741.56,5.37 L742.90,6.04 L743.57,6.71 L744.24,8.73 L744.24,10.07 L743.57,12.09 L742.23,13.43 L740.21,14.10 L738.20,14.10 L736.19,13.43 L735.51,12.76 L734.84,11.41" fill="none" stroke="#2828a8" stroke-width="1.30" stroke-linecap="round" stroke-linejoin="round"/><path transform="translate(0.00,642.00)" d="M751.70,0.00 L748.70,0.00 L748.40,2.70 L748.70,2.40 L749.60,2.10 L750.50,2.10 L751.40,2.40 L752.00,3.00 L752.30,3.90 L752.30,4.50 L752.00,5.40 L751.40,6.00 L750.50,6.30 L749.60,6.30 L748.70,6.00 L748.40,5.70 L748.10,5.10" fill="none" stroke="#2828a8" stroke-width="1.10" stroke-linecap="round" stroke-linejoin="round"/><path transform="translate(0.00,642.80)" d="M777.41,0.00 L770.70,14.10M768.01,0.00 L777.41,0.00" fill="none" stroke="#2828a8" stroke-width="1.30" stroke-linecap="round" stroke-linejoin="round"/><path transform="translate(137.90,0.00) rotate(90)" d="M381.09,3.36 L381.09,2.69 L381.76,1.34 L382.43,0.67 L383.77,0.00 L386.46,0.00 L387.80,0.67 L388.47,1.34 L389.14,2.69 L389.14,4.03 L388.47,5.37 L387.13,7.39 L380.41,14.10 L389.81,14.10M397.87,0.00 L395.86,0.67 L394.51,2.69 L393.84,6.04 L393.84,8.06 L394.51,11.41 L395.86,13.43 L397.87,14.10 L399.21,14.10 L401.23,13.43 L402.57,11.41 L403.24,8.06 L403.24,6.04 L402.57,2.69 L401.23,0.67 L399.21,0.00 L397.87,0.00" fill="none" stroke="#2828a8" stroke-width="1.30" stroke-linecap="round" stroke-linejoin="round"/><path transform="translate(137.40,0.00) rotate(90)" d="M437.63,2.69 L438.97,2.01 L440.99,0.00 L440.99,14.10M451.06,2.69 L452.40,2.01 L454.41,0.00 L454.41,14.10" fill="none" stroke="#2828a8" stroke-width="1.30" stroke-linecap="round" stroke-linejoin="round"/><path transform="translate(137.40,0.00) rotate(90)" d="M472.63,2.69 L473.97,2.01 L475.99,0.00 L475.99,14.10M486.06,2.69 L487.40,2.01 L489.41,0.00 L489.41,14.10" fill="none" stroke="#2828a8" stroke-width="1.30" stroke-linecap="round" stroke-linejoin="round"/><path transform="translate(424.50,0.00) rotate(90)" d="M383.29,3.36 L383.29,2.69 L383.96,1.34 L384.63,0.67 L385.97,0.00 L388.66,0.00 L390.00,0.67 L390.67,1.34 L391.34,2.69 L391.34,4.03 L390.67,5.37 L389.33,7.39 L382.61,14.10 L392.01,14.10M400.07,0.00 L398.06,0.67 L396.71,2.69 L396.04,6.04 L396.04,8.06 L396.71,11.41 L398.06,13.43 L400.07,14.10 L401.41,14.10 L403.43,13.43 L404.77,11.41 L405.44,8.06 L405.44,6.04 L404.77,2.69 L403.43,0.67 L401.41,0.00 L400.07,0.00" fill="none" stroke="#2828a8" stroke-width="1.30" stroke-linecap="round" stroke-linejoin="round"/><path transform="translate(422.90,0.00) rotate(90)" d="M438.33,2.69 L439.67,2.01 L441.69,0.00 L441.69,14.10M451.76,2.69 L453.10,2.01 L455.11,0.00 L455.11,14.10" fill="none" stroke="#2828a8" stroke-width="1.30" stroke-linecap="round" stroke-linejoin="round"/><path transform="translate(422.90,0.00) rotate(90)" d="M473.83,2.69 L475.17,2.01 L477.19,0.00 L477.19,14.10M487.26,2.69 L488.60,2.01 L490.61,0.00 L490.61,14.10" fill="none" stroke="#2828a8" stroke-width="1.30" stroke-linecap="round" stroke-linejoin="round"/><path transform="translate(571.10,0.00) rotate(90)" d="M419.99,3.36 L419.99,2.69 L420.66,1.34 L421.33,0.67 L422.67,0.00 L425.36,0.00 L426.70,0.67 L427.37,1.34 L428.04,2.69 L428.04,4.03 L427.37,5.37 L426.03,7.39 L419.31,14.10 L428.71,14.10M434.76,2.69 L436.10,2.01 L438.11,0.00 L438.11,14.10" fill="none" stroke="#2828a8" stroke-width="1.30" stroke-linecap="round" stroke-linejoin="round"/><path transform="translate(705.50,0.00) rotate(90)" d="M315.63,2.69 L316.97,2.01 L318.99,0.00 L318.99,14.10M335.77,2.01 L335.10,0.67 L333.09,0.00 L331.74,0.00 L329.73,0.67 L328.39,2.69 L327.71,6.04 L327.71,9.40 L328.39,12.09 L329.73,13.43 L331.74,14.10 L332.41,14.10 L334.43,13.43 L335.77,12.09 L336.44,10.07 L336.44,9.40 L335.77,7.39 L334.43,6.04 L332.41,5.37 L331.74,5.37 L329.73,6.04 L328.39,7.39 L327.71,9.40" fill="none" stroke="#2828a8" stroke-width="1.30" stroke-linecap="round" stroke-linejoin="round"/><path transform="translate(702.50,0.00) rotate(90)" d="M531.63,2.69 L532.97,2.01 L534.99,0.00 L534.99,14.10M552.44,0.00 L545.73,14.10M543.04,0.00 L552.44,0.00" fill="none" stroke="#2828a8" stroke-width="1.30" stroke-linecap="round" stroke-linejoin="round"/><path transform="translate(831.10,0.00) rotate(90)" d="M423.63,2.69 L424.97,2.01 L426.99,0.00 L426.99,14.10M435.71,3.36 L435.71,2.69 L436.39,1.34 L437.06,0.67 L438.40,0.00 L441.09,0.00 L442.43,0.67 L443.10,1.34 L443.77,2.69 L443.77,4.03 L443.10,5.37 L441.76,7.39 L435.04,14.10 L444.44,14.10" fill="none" stroke="#2828a8" stroke-width="1.30" stroke-linecap="round" stroke-linejoin="round"/><path transform="translate(940.40,0.00) rotate(90)" d="M373.83,2.69 L375.17,2.01 L377.19,0.00 L377.19,14.10M389.27,0.00 L387.26,0.67 L385.91,2.69 L385.24,6.04 L385.24,8.06 L385.91,11.41 L387.26,13.43 L389.27,14.10 L390.61,14.10 L392.63,13.43 L393.97,11.41 L394.64,8.06 L394.64,6.04 L393.97,2.69 L392.63,0.67 L390.61,0.00 L389.27,0.00" fill="none" stroke="#2828a8" stroke-width="1.30" stroke-linecap="round" stroke-linejoin="round"/><path transform="translate(940.40,0.00) rotate(90)" d="M407.43,2.69 L408.77,2.01 L410.79,0.00 L410.79,14.10M422.87,0.00 L420.86,0.67 L419.51,2.69 L418.84,6.04 L418.84,8.06 L419.51,11.41 L420.86,13.43 L422.87,14.10 L424.21,14.10 L426.23,13.43 L427.57,11.41 L428.24,8.06 L428.24,6.04 L427.57,2.69 L426.23,0.67 L424.21,0.00 L422.87,0.00" fill="none" stroke="#2828a8" stroke-width="1.30" stroke-linecap="round" stroke-linejoin="round"/><path transform="translate(1012.60,0.00) rotate(90)" d="M441.63,2.69 L442.97,2.01 L444.99,0.00 L444.99,14.10M457.07,0.00 L455.06,0.67 L453.71,2.69 L453.04,6.04 L453.04,8.06 L453.71,11.41 L455.06,13.43 L457.07,14.10 L458.41,14.10 L460.43,13.43 L461.77,11.41 L462.44,8.06 L462.44,6.04 L461.77,2.69 L460.43,0.67 L458.41,0.00 L457.07,0.00" fill="none" stroke="#2828a8" stroke-width="1.30" stroke-linecap="round" stroke-linejoin="round"/><path transform="translate(1011.50,0.00) rotate(90)" d="M479.63,2.69 L480.97,2.01 L482.99,0.00 L482.99,14.10M495.07,0.00 L493.06,0.67 L491.71,2.69 L491.04,6.04 L491.04,8.06 L491.71,11.41 L493.06,13.43 L495.07,14.10 L496.41,14.10 L498.43,13.43 L499.77,11.41 L500.44,8.06 L500.44,6.04 L499.77,2.69 L498.43,0.67 L496.41,0.00 L495.07,0.00" fill="none" stroke="#2828a8" stroke-width="1.30" stroke-linecap="round" stroke-linejoin="round"/><path transform="translate(1287.30,0.00) rotate(90)" d="M376.63,2.69 L377.97,2.01 L379.99,0.00 L379.99,14.10M392.07,0.00 L390.06,0.67 L388.71,2.69 L388.04,6.04 L388.04,8.06 L388.71,11.41 L390.06,13.43 L392.07,14.10 L393.41,14.10 L395.43,13.43 L396.77,11.41 L397.44,8.06 L397.44,6.04 L396.77,2.69 L395.43,0.67 L393.41,0.00 L392.07,0.00" fill="none" stroke="#2828a8" stroke-width="1.30" stroke-linecap="round" stroke-linejoin="round"/><path transform="translate(1287.30,0.00) rotate(90)" d="M410.93,2.69 L412.27,2.01 L414.29,0.00 L414.29,14.10M426.37,0.00 L424.36,0.67 L423.01,2.69 L422.34,6.04 L422.34,8.06 L423.01,11.41 L424.36,13.43 L426.37,14.10 L427.71,14.10 L429.73,13.43 L431.07,11.41 L431.74,8.06 L431.74,6.04 L431.07,2.69 L429.73,0.67 L427.71,0.00 L426.37,0.00" fill="none" stroke="#2828a8" stroke-width="1.30" stroke-linecap="round" stroke-linejoin="round"/><path transform="translate(1287.30,0.00) rotate(90)" d="M444.63,2.69 L445.97,2.01 L447.99,0.00 L447.99,14.10M460.07,0.00 L458.06,0.67 L456.71,2.69 L456.04,6.04 L456.04,8.06 L456.71,11.41 L458.06,13.43 L460.07,14.10 L461.41,14.10 L463.43,13.43 L464.77,11.41 L465.44,8.06 L465.44,6.04 L464.77,2.69 L463.43,0.67 L461.41,0.00 L460.07,0.00" fill="none" stroke="#2828a8" stroke-width="1.30" stroke-linecap="round" stroke-linejoin="round"/></svg>
</body></html>
